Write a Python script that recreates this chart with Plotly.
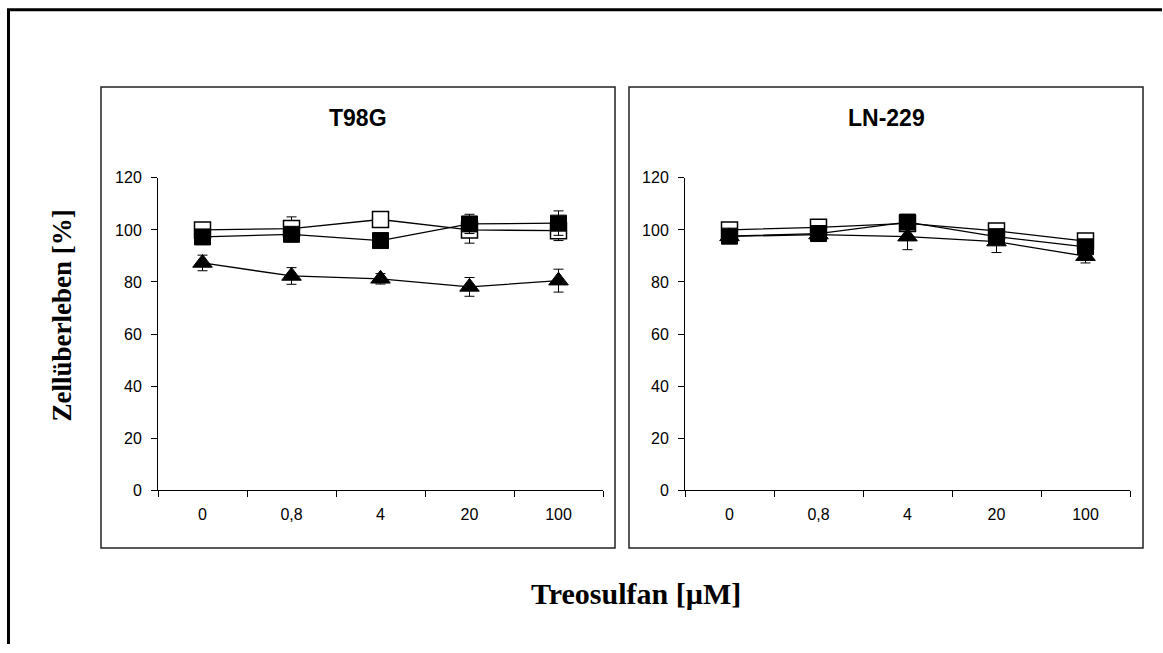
import plotly.graph_objects as go

W, H = 1163, 653

categories = ["0", "0,8", "4", "20", "100"]

# T98G
t98g_open = [100.0, 100.5, 104.0, 100.0, 99.7]
t98g_open_err = [2.0, 4.5, 1.5, 5.1, 3.8]
t98g_filled = [97.3, 98.3, 95.9, 102.3, 102.6]
t98g_filled_err = [1.5, 1.5, 1.5, 3.7, 4.7]
t98g_tri = [87.3, 82.3, 81.2, 78.1, 80.5]
t98g_tri_err = [3.0, 3.2, 2.0, 3.6, 4.4]

# LN-229
ln_open = [100.0, 101.0, 102.5, 99.6, 95.7]
ln_open_err = [2.5, 2.5, 1.5, 2.0, 2.0]
ln_filled = [97.6, 98.6, 103.0, 97.4, 93.5]
ln_filled_err = [1.5, 3.0, 1.5, 2.0, 2.0]
ln_tri = [97.5, 98.2, 97.4, 95.5, 89.9]
ln_tri_err = [1.5, 2.0, 5.0, 4.2, 2.6]

panels = [
    ("T98G", t98g_open, t98g_open_err, t98g_filled, t98g_filled_err, t98g_tri, t98g_tri_err),
    ("LN-229", ln_open, ln_open_err, ln_filled, ln_filled_err, ln_tri, ln_tri_err),
]

# target pixel geometry (as seen in the picture)
plot_x = [(158, 603), (685, 1130)]
plot_y = (178, 491)
panel_boxes = [(101, 87, 615, 549), (629, 87, 1143, 549)]

# vertical correction for the observed page offset/scaling
V_SCALE = 0.976
V_OFF = 8.0

def fy(y):
    return y / V_SCALE - V_OFF

fig = go.Figure()

def px(x):
    return x / W

def py(y):
    return 1 - fy(y) / H

for i, (name, op, ope, fi, fie, tr, tre) in enumerate(panels):
    xa = "x" if i == 0 else "x2"
    ya = "y" if i == 0 else "y2"
    err_style = dict(type="data", symmetric=True, color="black", thickness=1, width=5)
    fig.add_trace(go.Scatter(
        x=categories, y=op, xaxis=xa, yaxis=ya, mode="lines+markers",
        line=dict(color="black", width=1.3),
        marker=dict(symbol="square", size=16, color="white", line=dict(color="black", width=1.5)),
        error_y=dict(array=ope, **err_style), showlegend=False))
    fig.add_trace(go.Scatter(
        x=categories, y=tr, xaxis=xa, yaxis=ya, mode="lines+markers",
        line=dict(color="black", width=1.3),
        marker=dict(symbol="triangle-up", size=17, color="black", line=dict(color="black", width=1)),
        error_y=dict(array=tre, **err_style), showlegend=False))
    fig.add_trace(go.Scatter(
        x=categories, y=fi, xaxis=xa, yaxis=ya, mode="lines+markers",
        line=dict(color="black", width=1.3),
        marker=dict(symbol="square", size=16, color="black", line=dict(color="black", width=1)),
        error_y=dict(array=fie, **err_style), showlegend=False))

axis_common_x = dict(
    type="category", range=[-0.5, 4.5], showline=True, linecolor="black", linewidth=1,
    ticks="outside", tickson="boundaries", ticklen=6, tickcolor="black",
    showgrid=False, zeroline=False, fixedrange=True, ticklabelstandoff=10,
    tickfont=dict(family="Liberation Sans, Arial", size=16, color="black"),
)
axis_common_y = dict(
    range=[0, 120], dtick=20, tick0=0, showline=True, linecolor="black", linewidth=1,
    ticks="outside", ticklen=6, tickcolor="black", showgrid=False, zeroline=False,
    fixedrange=True, ticklabelstandoff=6,
    tickfont=dict(family="Liberation Sans, Arial", size=16, color="black"),
)

fig.update_layout(
    width=W, height=H, margin=dict(l=0, r=0, t=0, b=0),
    paper_bgcolor="white", plot_bgcolor="white",
    xaxis=dict(domain=[px(plot_x[0][0]), px(plot_x[0][1])], anchor="y", **axis_common_x),
    yaxis=dict(domain=[py(plot_y[1]), py(plot_y[0])], anchor="x", **axis_common_y),
    xaxis2=dict(domain=[px(plot_x[1][0]), px(plot_x[1][1])], anchor="y2", **axis_common_x),
    yaxis2=dict(domain=[py(plot_y[1]), py(plot_y[0])], anchor="x2", **axis_common_y),
)

shapes = []
# outer frame (left and top edges)
shapes.append(dict(type="line", xref="paper", yref="paper", x0=px(8.5), x1=px(8.5), y0=1 - 1.0 / H, y1=0,
                   line=dict(color="black", width=3)))
shapes.append(dict(type="line", xref="paper", yref="paper", x0=px(7), x1=px(1162), y0=1 - 1.8 / H, y1=1 - 1.8 / H,
                   line=dict(color="black", width=3)))
for (x0, y0, x1, y1) in panel_boxes:
    shapes.append(dict(type="rect", xref="paper", yref="paper", x0=px(x0), x1=px(x1), y0=py(y1), y1=py(y0),
                       line=dict(color="#222222", width=1.5), layer="below"))
fig.update_layout(shapes=shapes)

annotations = []
for i, (name, *_r) in enumerate(panels):
    x0, y0, x1, y1 = panel_boxes[i]
    annotations.append(dict(text="<b>%s</b>" % name, xref="paper", yref="paper",
                            x=px((x0 + x1) / 2), y=py(118), xanchor="center", yanchor="middle",
                            showarrow=False, font=dict(family="Liberation Sans, Arial", size=23, color="black")))
annotations.append(dict(text="<b>Zellüberleben [%]</b>", xref="paper", yref="paper",
                        x=px(62), y=py(316), xanchor="center", yanchor="middle", textangle=-90,
                        showarrow=False, font=dict(family="Liberation Serif, Times New Roman", size=27, color="black")))
annotations.append(dict(text="<b>Treosulfan [µM]</b>", xref="paper", yref="paper",
                        x=px(636), y=py(595), xanchor="center", yanchor="middle",
                        showarrow=False, font=dict(family="Liberation Serif, Times New Roman", size=30, color="black")))
fig.update_layout(annotations=annotations)

page_css = (
    "document.documentElement.style.margin='0';"
    "document.documentElement.style.padding='0';"
    "document.body.style.margin='0';"
    "document.body.style.padding='0';"
    "document.body.style.overflow='hidden';"
)

fig.write_html("out.html", config={"displayModeBar": False}, post_script=page_css)
